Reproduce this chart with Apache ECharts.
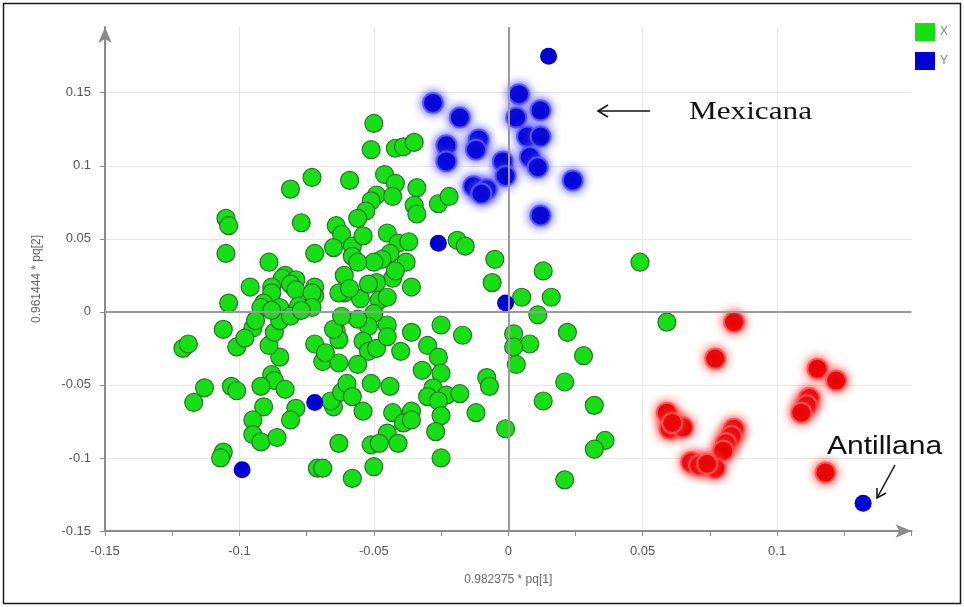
<!DOCTYPE html>
<html>
<head>
<meta charset="utf-8">
<script src="https://cdn.jsdelivr.net/npm/echarts@6/dist/echarts.min.js"></script>
<style>html,body{margin:0;padding:0;background:#fff}#c{width:964px;height:607px}</style>
</head>
<body>
<div id="c"></div>
<script>
const xAxisName = '0.982375 * pq[1]';
const yAxisName = '0.961444 * pq[2]';
const legendNames = ['X', 'Y'];

// Series X (green)
const greenPoints = [
[-0.050,0.129],[-0.051,0.111],[-0.042,0.112],[-0.039,0.113],[-0.035,0.116],
[-0.073,0.092],[-0.059,0.090],[-0.081,0.084],[-0.046,0.094],[-0.042,0.088],
[-0.049,0.080],[-0.051,0.076],[-0.043,0.079],[-0.034,0.085],[-0.035,0.073],
[-0.034,0.067],[-0.026,0.074],[-0.022,0.079],[-0.053,0.069],[-0.056,0.064],
[-0.077,0.061],[-0.105,0.064],[-0.104,0.059],[-0.105,0.040],[-0.064,0.059],
[-0.062,0.053],[-0.065,0.044],[-0.072,0.040],[-0.058,0.045],[-0.058,0.038],
[-0.054,0.052],[-0.045,0.054],[-0.041,0.047],[-0.037,0.048],[-0.044,0.040],
[-0.047,0.036],[-0.038,0.034],[-0.050,0.034],[-0.056,0.034],[-0.089,0.034],
[-0.061,0.025],[-0.061,0.013],[-0.043,0.023],[-0.049,0.020],[-0.036,0.017],
[-0.048,0.008],[-0.045,0.010],[-0.083,0.025],[-0.084,0.023],[-0.079,0.022],
[-0.081,0.019],[-0.088,0.017],[-0.096,0.017],[-0.072,0.017],[-0.072,0.011],
[-0.079,0.015],[-0.088,0.013],[-0.073,0.013],[-0.063,0.013],[-0.091,0.006],
[-0.104,0.006],[-0.092,0.003],[-0.085,0.003],[-0.078,0.004],[-0.073,0.003],
[-0.055,0.009],[-0.059,0.016],[-0.042,0.028],[-0.052,0.019],
[-0.050,-0.001],[-0.052,-0.010],[-0.045,-0.009],[-0.056,-0.005],[-0.064,-0.013],
[-0.063,-0.019],[-0.054,-0.020],[-0.052,-0.027],[-0.049,-0.025],[-0.045,-0.017],
[-0.040,-0.027],[-0.036,-0.014],[-0.030,-0.023],[-0.026,-0.031],[-0.025,-0.009],
[-0.032,-0.040],[-0.025,-0.042],[-0.017,-0.016],
[-0.072,-0.022],[-0.069,-0.034],[-0.063,-0.035],[-0.068,-0.028],[-0.056,-0.036],
[-0.085,-0.031],[-0.089,-0.023],[-0.087,-0.014],[-0.095,-0.011],[-0.101,-0.024],
[-0.106,-0.012],[-0.098,-0.018],[-0.094,-0.006],[-0.085,-0.006],[-0.088,0.001],
[-0.081,-0.003],[-0.077,0.001],[-0.065,-0.012],[-0.062,-0.003],
[-0.121,-0.025],[-0.119,-0.022],[-0.113,-0.052],[-0.117,-0.062],[-0.103,-0.051],
[-0.101,-0.054],[-0.088,-0.043],[-0.087,-0.047],[-0.092,-0.051],[-0.083,-0.053],
[-0.091,-0.065],[-0.079,-0.066],[-0.081,-0.074],[-0.095,-0.074],[-0.095,-0.084],
[-0.092,-0.089],[-0.086,-0.086],[-0.106,-0.096],[-0.107,-0.100],[-0.071,-0.107],
[-0.063,-0.090],[-0.058,-0.114],[-0.065,-0.065],[-0.066,-0.061],[-0.062,-0.055],
[-0.060,-0.049],[-0.058,-0.058],[-0.054,-0.068],[-0.051,-0.049],[-0.044,-0.051],
[-0.043,-0.069],[-0.036,-0.068],[-0.039,-0.076],[-0.036,-0.074],[-0.045,-0.083],
[-0.051,-0.091],[-0.048,-0.090],[-0.041,-0.090],[-0.050,-0.106],[-0.069,-0.107],
[-0.028,-0.052],[-0.030,-0.058],[-0.023,-0.057],[-0.026,-0.061],[-0.025,-0.071],
[-0.027,-0.082],[-0.018,-0.056],[-0.012,-0.069],[-0.025,-0.100],
[-0.008,-0.045],[-0.007,-0.051],[-0.001,-0.080],
[-0.005,0.036],[-0.006,0.020],[0.005,0.010],[0.013,0.028],[0.016,0.010],
[0.011,-0.002],[0.002,-0.015],[0.008,-0.022],[0.002,-0.024],[0.003,-0.036],
[0.022,-0.014],[0.028,-0.030],[0.021,-0.048],[0.013,-0.061],[0.032,-0.064],
[0.036,-0.088],[0.032,-0.094],[0.021,-0.115],[0.049,0.034],[0.059,-0.007],
[-0.019,0.049],[-0.016,0.045]
];

// Series Y (blue) - Mexicana group (with halo)
const bluePointsHalo = [
[-0.028,0.143],[-0.018,0.133],[-0.023,0.114],[-0.023,0.103],[-0.011,0.118],
[-0.012,0.111],[-0.002,0.103],[-0.001,0.093],[-0.013,0.086],[-0.008,0.084],
[-0.010,0.081],[0.004,0.149],[0.003,0.133],[0.012,0.138],[0.007,0.120],
[0.012,0.120],[0.008,0.106],[0.011,0.099],[0.024,0.090],[0.012,0.066]
];
// Series Y (blue) - other points (no halo)
const bluePointsPlain = [
[0.015,0.175],[-0.026,0.047],[-0.001,0.006],[-0.072,-0.062],[-0.099,-0.108],[0.132,-0.131]
];

// Third group (red, with halo)
const redPoints = [
[0.084,-0.007],[0.077,-0.032],[0.115,-0.039],[0.122,-0.047],[0.112,-0.059],
[0.111,-0.064],[0.109,-0.069],[0.059,-0.069],[0.060,-0.080],[0.065,-0.079],
[0.061,-0.076],[0.084,-0.080],[0.083,-0.085],[0.081,-0.090],[0.080,-0.095],
[0.068,-0.103],[0.071,-0.105],[0.077,-0.107],[0.074,-0.104],[0.118,-0.110]
];

const chart = echarts.init(document.getElementById('c'), null, {renderer: 'canvas'});

const haloBlue = {color: '#0000d2', borderColor: 'rgba(90,90,255,0.9)', borderWidth: 2, shadowBlur: 10, shadowColor: 'rgba(60,60,255,1)'};
const blueData = bluePointsHalo.map(p => ({value: p, symbolSize: 20, itemStyle: haloBlue}))
  .concat(bluePointsPlain.map(p => ({value: p})));

const axisGray = '#8a8a8a';
const font = 'Liberation Sans';

const option = {
  animation: false,
  backgroundColor: '#fff',
  textStyle: {fontFamily: font},
  grid: {left: 105, right: 52.5, top: 27, bottom: 76},
  legend: {
    data: legendNames, orient: 'vertical', left: 915, top: 23,
    itemWidth: 20, itemHeight: 18, itemGap: 11, icon: 'rect', padding: 0,
    textStyle: {color: '#808080', fontSize: 12, fontFamily: font},
    itemStyle: {borderWidth: 0, shadowBlur: 0}
  },
  xAxis: {
    type: 'value', min: -0.15, max: 0.15, interval: 0.05,
    name: xAxisName, nameLocation: 'middle', nameGap: 43,
    nameTextStyle: {color: '#666', fontSize: 12, fontFamily: font},
    axisLine: {onZero: false, lineStyle: {color: axisGray, width: 2}, symbol: ['none', 'arrow'], symbolSize: [10, 16]},
    axisTick: {show: true, length: 5, lineStyle: {color: axisGray}},
    minorTick: {show: true, splitNumber: 2, length: 5, lineStyle: {color: axisGray}},
    axisLabel: {color: '#555', fontSize: 13, margin: 14, showMaxLabel: false, fontFamily: font},
    splitLine: {show: true, lineStyle: {color: '#e6e6e6', width: 1}, showMinLine: false, showMaxLine: false}
  },
  yAxis: {
    type: 'value', min: -0.15, max: 0.195, interval: 0.05,
    name: yAxisName, nameLocation: 'middle', nameGap: 62,
    nameTextStyle: {color: '#666', fontSize: 12, fontFamily: font},
    axisLine: {onZero: false, lineStyle: {color: axisGray, width: 2}, symbol: ['none', 'arrow'], symbolSize: [10, 16]},
    axisTick: {show: true, length: 5, lineStyle: {color: axisGray}},
    axisLabel: {color: '#555', fontSize: 13, margin: 14, showMaxLabel: false, fontFamily: font},
    splitLine: {show: true, lineStyle: {color: '#e6e6e6', width: 1}, showMinLine: false, showMaxLine: false}
  },
  series: [
    {
      name: 'zero', type: 'line', data: [], z: 1, silent: true,
      markLine: {
        silent: true, symbol: ['none', 'none'], label: {show: false},
        lineStyle: {color: '#9a9a9a', width: 2, type: 'solid'},
        data: [{xAxis: 0}, {yAxis: 0}]
      }
    },
    {
      name: 'X', type: 'scatter', z: 3, symbolSize: 18, data: greenPoints,
      itemStyle: {color: '#14e014', borderColor: '#2f6f2f', borderWidth: 1.2, opacity: 1}
    },
    {
      name: 'Y', type: 'scatter', z: 4, symbolSize: 17, data: blueData,
      itemStyle: {color: '#0000d2', opacity: 1}
    },
    {
      name: 'Z', type: 'scatter', z: 4, symbolSize: 20, data: redPoints,
      itemStyle: {color: '#e60000', borderColor: 'rgba(255,90,90,0.9)', borderWidth: 2, shadowBlur: 10, shadowColor: 'rgba(255,50,50,1)', opacity: 1}
    }
  ],
  graphic: [
    {type: 'rect', silent: true, z: 100, shape: {x: 3.5, y: 3.5, width: 957, height: 600},
     style: {fill: 'none', stroke: '#1a1a1a', lineWidth: 1.5}},
    {type: 'text', silent: true, z: 100, x: 689, y: 112, scaleX: 1.2,
     style: {text: 'Mexicana', font: '26px "Liberation Serif"', fill: '#111', verticalAlign: 'middle'}},
    {type: 'line', silent: true, z: 100, shape: {x1: 650, y1: 111, x2: 598, y2: 111},
     style: {stroke: '#111', lineWidth: 1.5}},
    {type: 'polyline', silent: true, z: 100, shape: {points: [[608, 105], [598, 111], [608, 117]]},
     style: {stroke: '#111', lineWidth: 1.5, fill: null}},
    {type: 'text', silent: true, z: 100, x: 827, y: 447, scaleX: 1.2,
     style: {text: 'Antillana', font: '25px "Liberation Sans"', fill: '#111', verticalAlign: 'middle'}},
    {type: 'line', silent: true, z: 100, shape: {x1: 895, y1: 465, x2: 877, y2: 498},
     style: {stroke: '#111', lineWidth: 1.5}},
    {type: 'polyline', silent: true, z: 100, shape: {points: [[886, 493], [877, 498], [877, 488]]},
     style: {stroke: '#111', lineWidth: 1.5, fill: null}}
  ]
};
chart.setOption(option);
</script>
</body>
</html>
